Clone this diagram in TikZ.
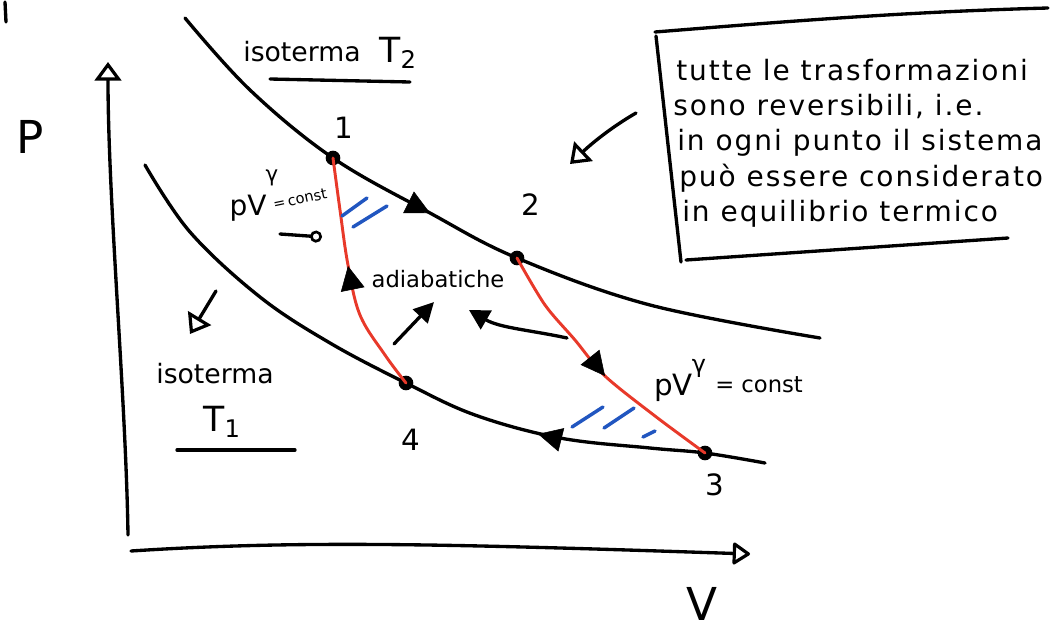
\documentclass[tikz,border=0pt]{standalone}
\usepackage{fontspec}
\setmainfont{DejaVu Sans}
\usetikzlibrary{arrows.meta}
\definecolor{redline}{HTML}{E8392A}
\definecolor{bluemark}{HTML}{2156C0}
\tikzset{
  ink/.style={line width=2.5pt, line cap=round, line join=round},
  curve/.style={ink, black},
  adiab/.style={line width=2.2pt, redline, line cap=round},
  hatch/.style={line width=2.6pt, bluemark, line cap=round},
  dot/.style={circle, fill=black, inner sep=0pt, minimum size=11pt},
  tip/.style={line width=0.4pt, -{Triangle[length=18pt,width=18pt]}},
  opentip/.style={ink, -{Triangle[open,length=14pt,width=20pt,line width=2.4pt]}},
  lbl/.style={font=\fontsize{20}{24}\selectfont, inner sep=0pt},
  boxtxt/.style={font=\fontsize{21}{25}\selectfont\addfontfeature{LetterSpace=7}, anchor=base west, inner sep=0pt},
  num/.style={font=\fontsize{22}{26}\selectfont, inner sep=0pt},
}
\begin{document}
\begin{tikzpicture}[x=0.75pt,y=-0.75pt]
\useasboundingbox (0,0) rectangle (1058,636);
% stray tick
\draw[ink] (5,2) -- (6,22);
% axes
\coordinate (ybot) at (128,535);
\coordinate (ytop) at (108,62);
\draw[opentip] (ybot) .. controls (126,400) and (108,200) .. (ytop);
\coordinate (xleft) at (131,551);
\coordinate (xright) at (750,554);
\draw[ink, -{Triangle[open,round,length=14pt,width=18pt,line width=2.4pt]}] (xleft) .. controls (300,540) and (450,544) .. (xright);
\node[font=\fontsize{34}{38}\selectfont] (P) at (30,137) {P};
\node[font=\fontsize{34}{38}\selectfont] (V) at (702,604) {V};
% cycle points
\node[dot] (p1) at (333,158) {};
\node[dot] (p2) at (517,258) {};
\node[dot] (p3) at (705,453) {};
\node[dot] (p4) at (406,383) {};
% isotherms
\draw[curve] plot[smooth, tension=0.6] coordinates {(185,18) (250,90) (333,158) (430,213) (517,258) (650,305) (820,338)};
\draw[curve] plot[smooth, tension=0.6] coordinates {(145,165) (190,232) (260,297) (330,343) (406,383) (475,415) (560,438) (650,448) (705,453) (765,463)};
% adiabats
\draw[adiab] plot[smooth, tension=0.6] coordinates {(333,158) (340,210) (348,265) (360,315) (385,355) (406,383)};
\draw[adiab] plot[smooth, tension=0.5] coordinates {(517,258) (545,305) (575,340) (605,376) (655,416) (705,453)};
% direction arrows
\draw[tip] (426,211) -- (430,213);
\draw[tip] (349,271) -- (348,266);
\draw[tip] (601,371) -- (605,376);
\draw[tip] (542,435) -- (538,434);
% blue hatches
\draw[hatch] (342,216) -- (367,198);
\draw[hatch] (353,227) -- (387,206);
\draw[hatch] (572,427) -- (603,407);
\draw[hatch] (604,428) -- (634,408);
\draw[hatch] (643,437) -- (655,431);
% numbers
\node[num] (n1) at (344,128) {1};
\node[num] (n2) at (531,205) {2};
\node[num] (n3) at (715,485) {3};
\node[num] (n4) at (411,440) {4};
% isotherm labels
\node[lbl] (iso2) at (302,52) {isoterma};
\node[font=\fontsize{26}{30}\selectfont, inner sep=0pt] (T2) at (398,53) {T\textsubscript{2}};
\coordinate (u2a) at (270,79);
\coordinate (u2b) at (410,82);
\draw[ink] (u2a) -- (u2b);
\node[lbl] (iso1) at (215,374) {isoterma};
\node[font=\fontsize{26}{30}\selectfont, inner sep=0pt] (T1) at (222,422) {T\textsubscript{1}};
\coordinate (u1a) at (177,450);
\coordinate (u1b) at (295,450);
\draw[ink] (u1a) -- (u1b);
% left adiabat label
\node[font=\fontsize{21}{24}\selectfont, inner sep=0pt] (pvl) at (248,208) {pV};
\node[font=\fontsize{16}{18}\selectfont, inner sep=0pt] (gl) at (272,178) {γ};
\node[font=\fontsize{11}{13}\selectfont, inner sep=0pt, rotate=12] (cl) at (300,199) {=\,const};
\coordinate (pvla) at (280,234);
\coordinate (pvlb) at (322,237);
\draw[ink, -{Circle[open,length=9pt,width=9pt,line width=2pt]}] (pvla) -- (pvlb);
\node[lbl, font=\fontsize{17}{20}\selectfont] (adia) at (438,279) {adiabatiche};
\coordinate (a1s) at (394,344);
\draw[ink, -{Triangle[length=15pt,width=15pt]}] (a1s) -- (434,302);
\coordinate (a2s) at (567,338);
\draw[ink, -{Triangle[length=15pt,width=16pt]}] (a2s) .. controls (530,330) and (500,328) .. (469,310);
% right adiabat label
\node[font=\fontsize{22}{26}\selectfont, inner sep=0pt, anchor=base west] (pvr) at (654,395) {pV};
\node[font=\fontsize{18}{20}\selectfont, inner sep=0pt] (gr) at (699,368) {γ};
\node[font=\fontsize{17}{20}\selectfont, inner sep=0pt, anchor=base west] (cr) at (715,392) {= const};
% open arrows
\coordinate (oa1s) at (636,113);
\coordinate (oa1e) at (570,164);
\draw[opentip] (oa1s) .. controls (610,128) and (590,145) .. (oa1e);
\coordinate (oa2s) at (216,291);
\coordinate (oa2e) at (190,334);
\draw[opentip] (oa2s) -- (oa2e);
% note box
\coordinate (bt1) at (655,32);
\coordinate (bt2) at (1048,8);
\draw[ink] (bt1) .. controls (780,22) and (900,12) .. (bt2);
\coordinate (bl1) at (656,36);
\coordinate (bl2) at (681,262);
\draw[ink] (bl1) -- (bl2);
\coordinate (bb1) at (686,260);
\coordinate (bb2) at (1008,238);
\draw[ink] (bb1) -- (bb2);
\node[boxtxt] (t1) at (676,80) {tutte le trasformazioni};
\node[boxtxt] (t2) at (673,115) {sono reversibili, i.e.};
\node[boxtxt] (t3) at (677,150) {in ogni punto il sistema};
\node[boxtxt] (t4) at (679,186) {può essere considerato};
\node[boxtxt] (t5) at (682,221) {in equilibrio termico};
\end{tikzpicture}
\end{document}
